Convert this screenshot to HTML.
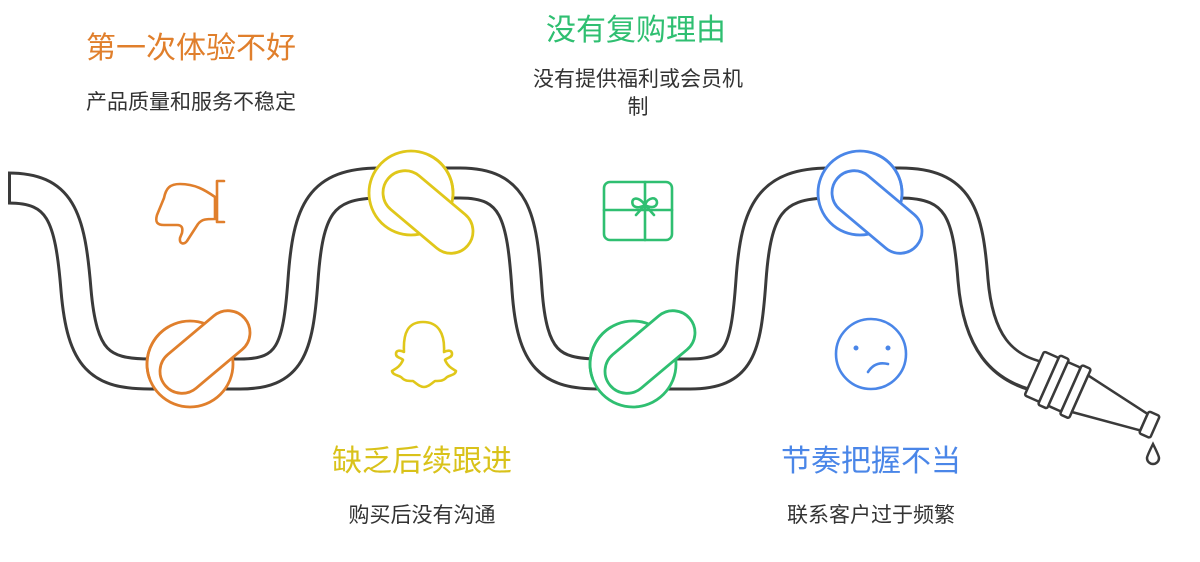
<!DOCTYPE html>
<html><head><meta charset="utf-8"><style>
html,body{margin:0;padding:0;background:#fff;}
body{width:1200px;height:562px;overflow:hidden;position:relative;font-family:"Liberation Sans","Noto Sans CJK SC",sans-serif;}
.t{position:absolute;white-space:nowrap;text-align:center;line-height:1.3;}
.h{font-size:30px;}
.s{font-size:21px;color:#333;}
</style></head><body>
<svg width="1200" height="562" style="position:absolute;left:0;top:0">
<g fill="none" stroke-linecap="butt" stroke-linejoin="round">
<path d="M8,188 C60,188 70,215 76,290 C82,360 100,374 150,374 L240,374 C290,374 298,350 303,280 C308,210 320,183 380,183 L460,183 C515,183 522,215 527,290 C532,360 550,374 600,374 L690,374 C740,374 746,350 751,280 C756,210 770,183 830,183 L900,183 C960,183 968,215 973,280 C978,340 1000,370 1045,378" stroke="#3a3a3a" stroke-width="33"/>
<path d="M8,188 C60,188 70,215 76,290 C82,360 100,374 150,374 L240,374 C290,374 298,350 303,280 C308,210 320,183 380,183 L460,183 C515,183 522,215 527,290 C532,360 550,374 600,374 L690,374 C740,374 746,350 751,280 C756,210 770,183 830,183 L900,183 C960,183 968,215 973,280 C978,340 1000,370 1047,378" stroke="#fff" stroke-width="27"/>
<line x1="9.5" y1="172" x2="9.5" y2="204" stroke="#3a3a3a" stroke-width="3"/>
</g>
<g transform="translate(1038,375) rotate(24)" fill="#fff" stroke="#3a3a3a" stroke-width="2.5" stroke-linejoin="round">
<rect x="-4" y="-24" width="16" height="48" rx="2"/>
<rect x="12" y="-27" width="10" height="54" rx="2"/>
<rect x="22" y="-24" width="14" height="48" rx="2"/>
<rect x="36" y="-27" width="10" height="54" rx="2"/>
<path d="M46,-20 L116,-9 L116,9 L46,20 Z"/>
<rect x="116" y="-12" width="12" height="24" rx="2"/>
</g>
<path d="M1153,444 C1149,452 1147,456 1147,458 A6,6 0 0 0 1159,458 C1159,456 1157,452 1153,444 Z" fill="none" stroke="#3a3a3a" stroke-width="2.5"/>
<g stroke-width="2.8">
<g stroke="#e07f2c">
<circle cx="190" cy="364" r="43" fill="#fff"/>
<g transform="translate(205,352) rotate(-40)"><rect x="-52" y="-22" width="104" height="44" rx="22" fill="#fff"/></g>
<circle cx="190" cy="364" r="43" fill="none" stroke-dasharray="60 210" stroke-dashoffset="-120"/>
</g>
<g stroke="#e0c71a">
<circle cx="411" cy="193" r="42" fill="#fff"/>
<g transform="translate(428,212) rotate(40)"><rect x="-52" y="-22" width="104" height="44" rx="22" fill="#fff"/></g>
<circle cx="411" cy="193" r="42" fill="none" stroke-dasharray="55 210" stroke-dashoffset="-215"/>
</g>
<g stroke="#2fbf71">
<circle cx="633" cy="364" r="43" fill="#fff"/>
<g transform="translate(650,352) rotate(-40)"><rect x="-52" y="-22" width="104" height="44" rx="22" fill="#fff"/></g>
<circle cx="633" cy="364" r="43" fill="none" stroke-dasharray="60 210" stroke-dashoffset="-120"/>
</g>
<g stroke="#4a86e8">
<circle cx="860" cy="193" r="42" fill="#fff"/>
<g transform="translate(877,212) rotate(40)"><rect x="-52" y="-22" width="104" height="44" rx="22" fill="#fff"/></g>
<circle cx="860" cy="193" r="42" fill="none" stroke-dasharray="55 210" stroke-dashoffset="-215"/>
</g>
</g>
<g fill="none" stroke-width="2.6" stroke-linejoin="round" stroke-linecap="round">
<path stroke="#e07f2c" d="M215,197 C205,190 195,184 180,184 C170,184 166,188 164,198 L157,215 C155,222 157,225 164,225 L177,225 C182,225 183,228 182,233 L180,238 C179,244 184,245 187,241 L198,224 C202,219 206,219 215,219 Z M217,181 L224,181 M217,181 L217,222 L224,222"/>
<g stroke="#2fbf71"><rect x="604" y="182" width="68" height="58" rx="6"/><line x1="604" y1="210" x2="672" y2="210"/><line x1="645" y1="182" x2="645" y2="240"/><path d="M645,205 C638,195 630,198 633,205 C636,209 642,207 645,205 C648,197 657,196 657,203 C656,208 650,208 645,205 M645,205 L636,215 M645,205 L654,215"/></g>
<path stroke="#e0c71a" d="M423,322 C408,322 403,333 404,352 C400,350 396,350 396,354 C396,358 402,358 403,360 C400,367 395,369 392,371 C393,376 400,375 402,378 C405,381 408,381 413,381 C417,384 420,387 424,387 C428,387 431,384 435,381 C440,381 443,381 446,378 C448,375 455,376 456,371 C453,369 448,367 445,360 C446,358 452,358 452,354 C452,350 448,350 444,352 C445,333 438,322 423,322 Z"/>
<g stroke="#4a86e8"><ellipse cx="871" cy="354" rx="35" ry="35"/><circle cx="856" cy="348" r="1.2" fill="#4a86e8"/><circle cx="888" cy="348" r="1.2" fill="#4a86e8"/><path d="M868,372 C873,364 880,362 888,364"/></g>
</g>
</svg>
<div class="t h" style="left:60px;top:29px;width:262px;color:#e07f2c">第一次体验不好</div>
<div class="t s" style="left:60px;top:89px;width:262px">产品质量和服务不稳定</div>
<div class="t h" style="left:500px;top:11px;width:272px;color:#2fbf71">没有复购理由</div>
<div class="t s" style="left:500px;top:66px;width:276px;line-height:28px">没有提供福利或会员机<br>制</div>
<div class="t h" style="left:300px;top:442px;width:244px;color:#d9c21a">缺乏后续跟进</div>
<div class="t s" style="left:300px;top:502px;width:244px">购买后没有沟通</div>
<div class="t h" style="left:750px;top:442px;width:242px;color:#4a86e8">节奏把握不当</div>
<div class="t s" style="left:750px;top:502px;width:242px">联系客户过于频繁</div>
</body></html>
